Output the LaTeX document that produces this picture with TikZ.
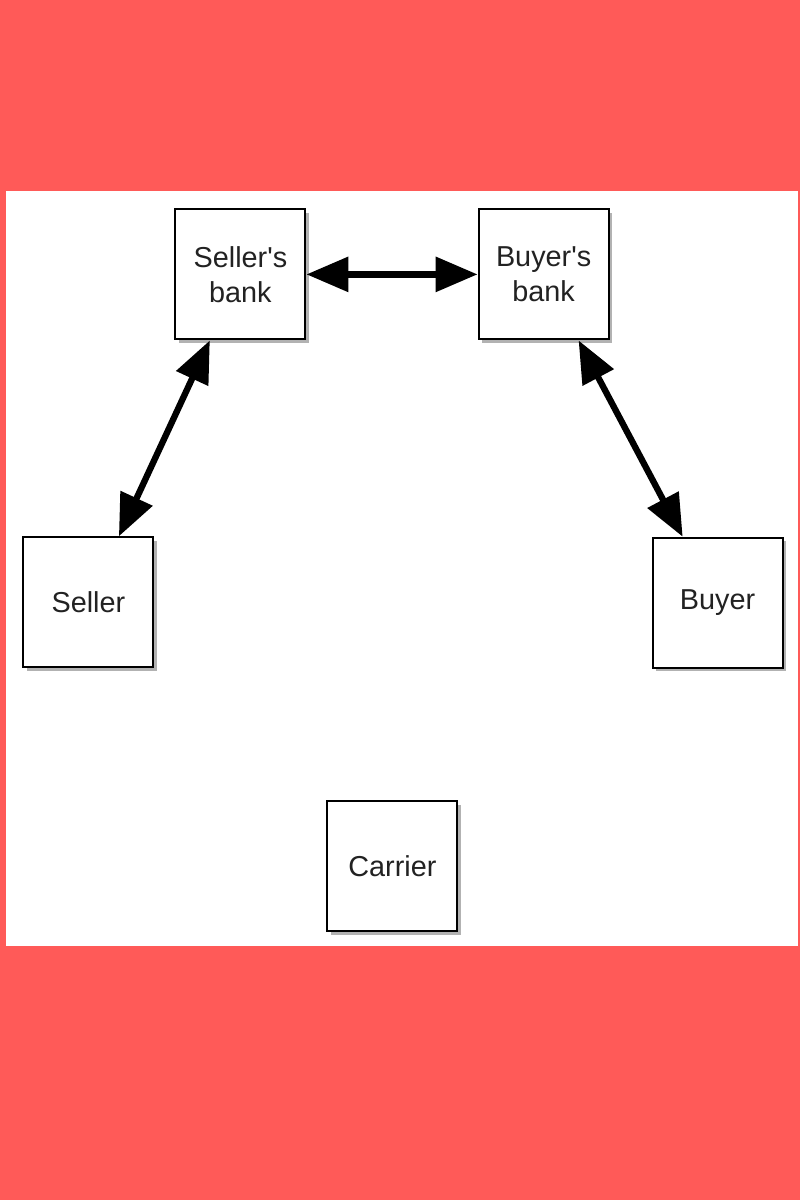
\documentclass[tikz,border=0pt]{standalone}
\usepackage{fontspec}
\setmainfont{Liberation Sans}
\usepackage{tikz}
\usetikzlibrary{shapes, arrows.meta, shadows}
\definecolor{bgred}{RGB}{255,90,88}
\definecolor{txtgray}{RGB}{34,34,34}
\tikzstyle{box}  = [draw, line width=1.5pt, fill=white, minimum size=3.25cm, align=center,
                    text=txtgray, font=\fontsize{20.5}{25}\selectfont,
                    drop shadow={shadow xshift=0.9mm, shadow yshift=-0.9mm, opacity=0.6}]
\tikzstyle{<->}  = [draw, line width=4.5pt, {Triangle[length=1.05cm, width=0.85cm]}-{Triangle[length=1.05cm, width=0.85cm]}]

\begin{document}
\begin{tikzpicture}

% background
\useasboundingbox (0,0) rectangle (20,30);
\fill [bgred] (0,0) rectangle (20,30);
\fill [white] (0.15,6.35) rectangle (19.95,25.225);

% nodes
\node [box] at (  6.01 , 23.14 ) (sbank)   {Seller\textquotesingle s\\bank};
\node [box] at ( 13.59 , 23.14 ) (bbank)   {Buyer\textquotesingle s\\bank};
\node [box] at (  2.21 , 14.94 ) (seller)  {Seller};
\node [box] at ( 17.94 , 14.93 ) (buyer)   {Buyer};
\node [box] at (  9.81 ,  8.35 ) (carrier) {Carrier};

% edges
\path [<->] (sbank) edge (bbank)
            (sbank) edge (seller)
            (bbank) edge (buyer);

\end{tikzpicture}
\end{document}
